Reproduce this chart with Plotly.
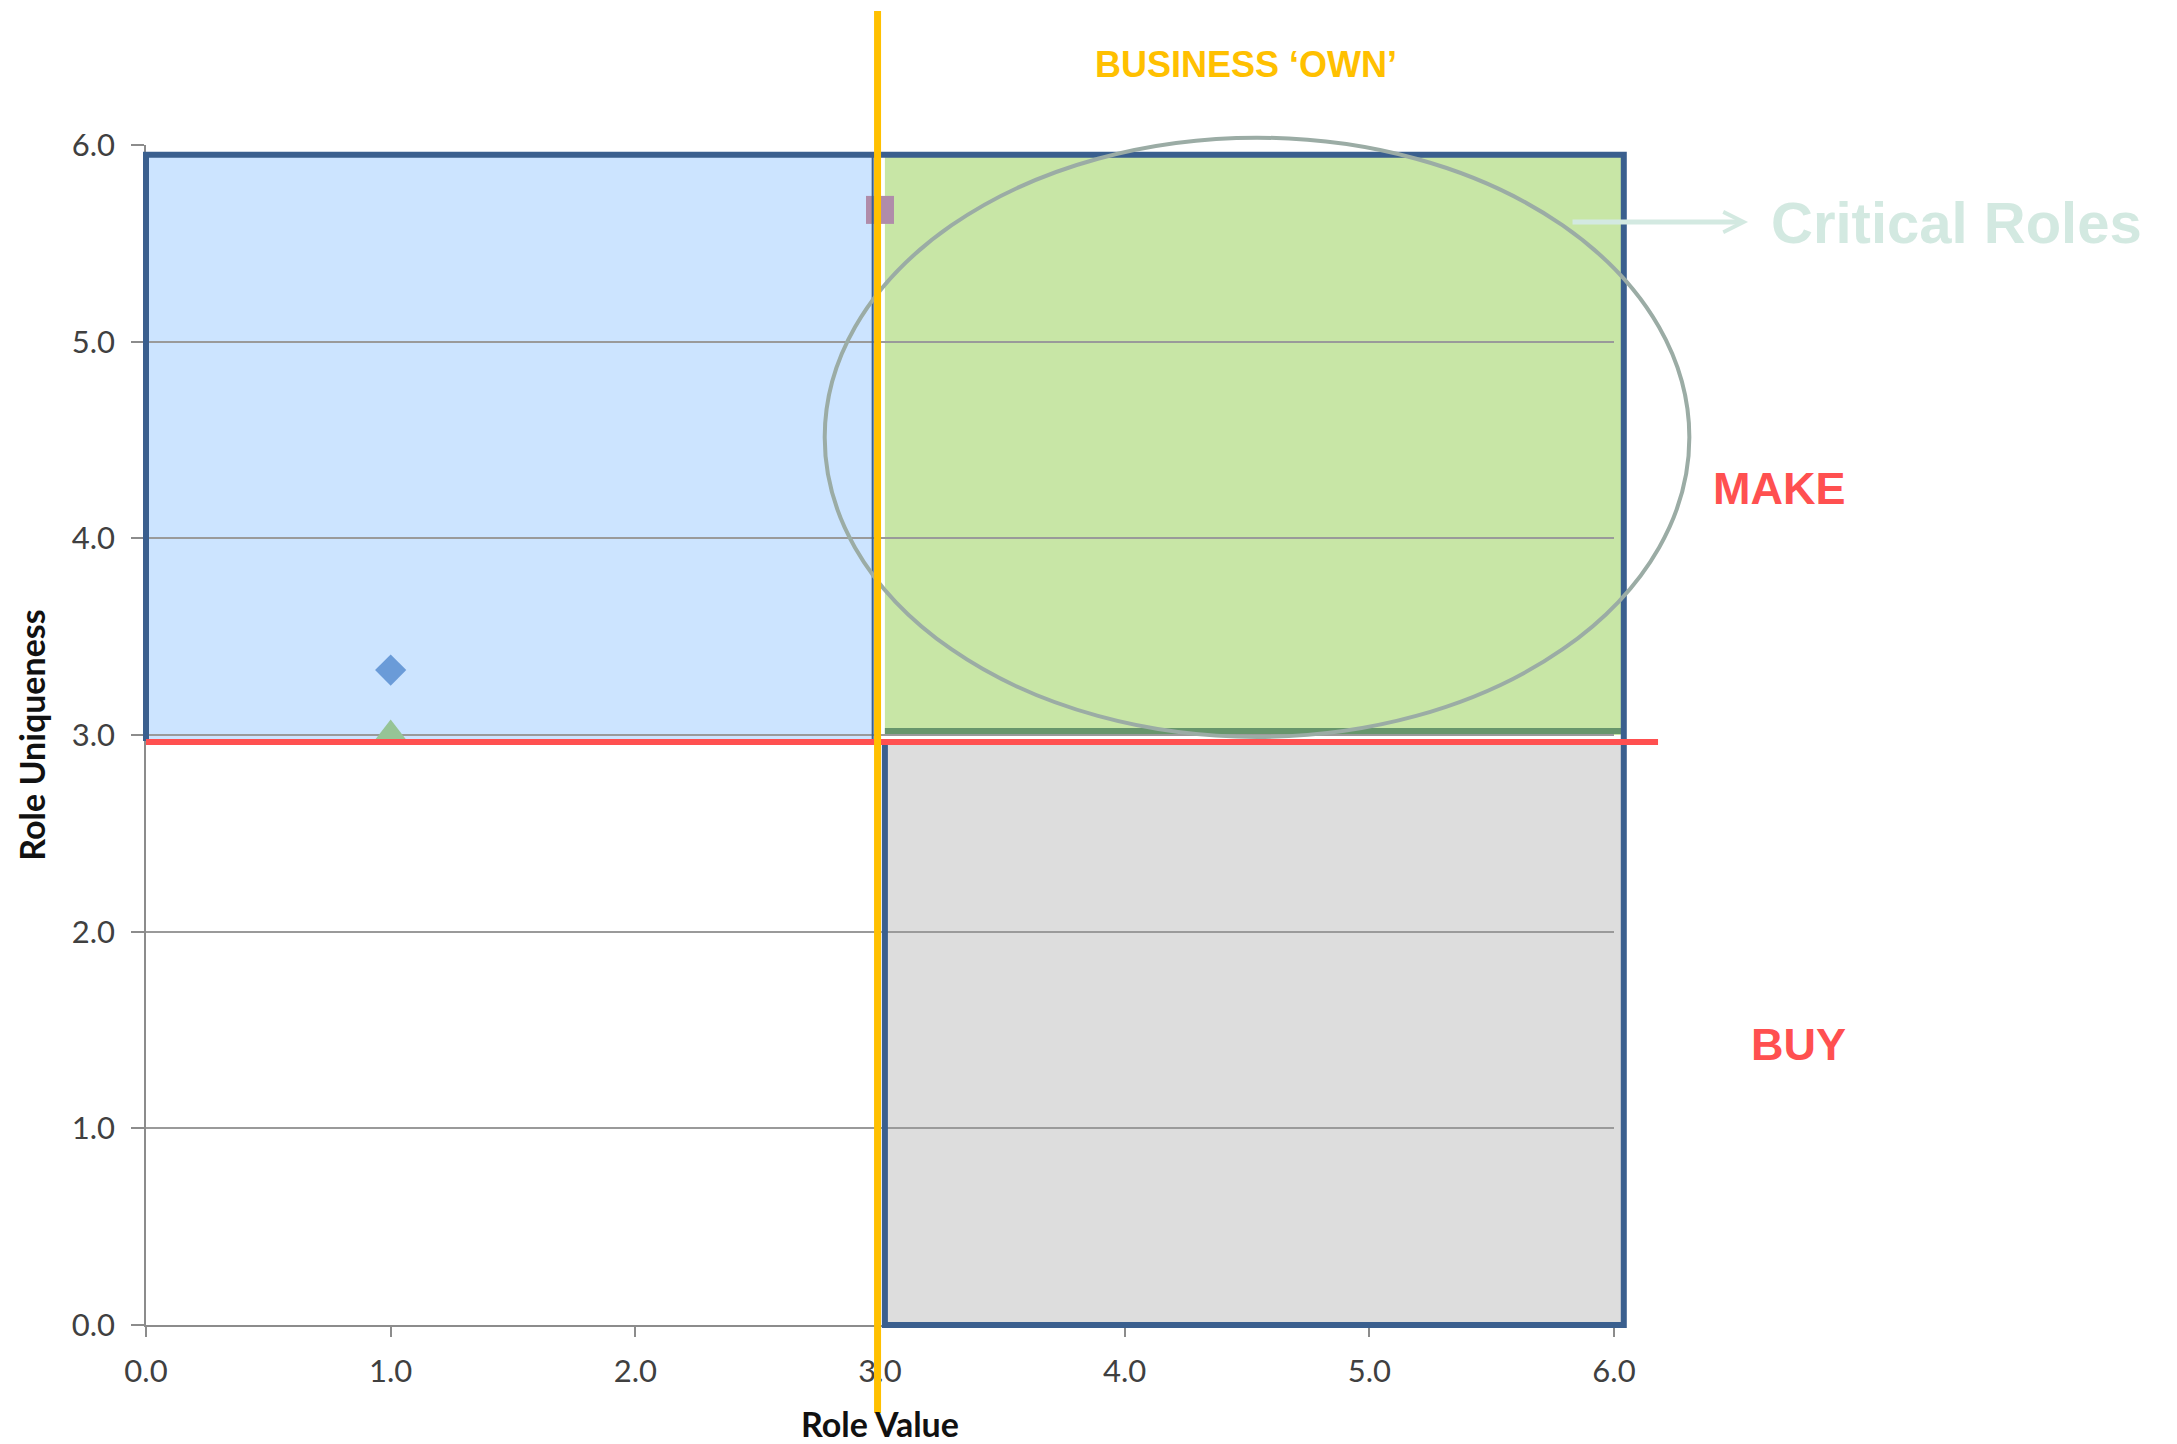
import plotly.graph_objects as go

# ---- data ----
role_names = ["Role A", "Role B", "Role C"]
role_value = [1.0, 3.0, 1.0]
role_uniqueness = [3.33, 5.67, 3.0]
role_symbols = ["diamond", "square", "triangle-up"]
role_colors = ["rgb(106,155,216)", "rgb(176,140,170)", "rgb(150,196,150)"]

x_ticks = [0, 1, 2, 3, 4, 5, 6]
x_tick_labels = ["0.0", "1.0", "2.0", "3.0", "4.0", "5.0", "6.0"]
y_ticks = [0, 1, 2, 3, 4, 5, 6]
y_tick_labels = ["0.0", "1.0", "2.0", "3.0", "4.0", "5.0", "6.0"]

# quadrant boundaries (data units)
split_x = 3.0
split_y = 2.97
top_y = 5.95
right_x = 6.04
green_left = 3.02
make_floor = 3.02
red_line_end = 6.18
# ellipse (data units)
ell_x0, ell_x1 = 2.774, 6.308
ell_y0, ell_y1 = 2.99, 6.037

AX_MAX = 6.0


def p(v):
    return v / AX_MAX


marker_sizes = {"diamond": 24, "square": 28, "triangle-up": 31}

fig = go.Figure()
for i in range(len(role_names)):
    fig.add_trace(go.Scatter(
        x=[role_value[i]], y=[role_uniqueness[i]], mode="markers",
        name=role_names[i],
        marker=dict(symbol=role_symbols[i], color=role_colors[i],
                    size=marker_sizes[role_symbols[i]], line=dict(width=0)),
        showlegend=False, cliponaxis=False))

BORDER = "rgb(58,95,142)"
shapes = []
# fills (below gridlines)
shapes.append(dict(type="rect", xref="x", yref="y", x0=0, x1=split_x, y0=split_y, y1=top_y,
                   fillcolor="rgb(204,228,255)", line=dict(width=0), layer="below"))
shapes.append(dict(type="rect", xref="paper", yref="paper", x0=p(green_left), x1=p(right_x),
                   y0=p(3.0), y1=p(top_y), fillcolor="rgb(200,230,166)", line=dict(width=0), layer="below"))
shapes.append(dict(type="rect", xref="paper", yref="paper", x0=p(green_left), x1=p(right_x),
                   y0=p(0), y1=p(split_y), fillcolor="rgb(221,221,221)", line=dict(width=0), layer="below"))
# green strip at bottom of MAKE area
shapes.append(dict(type="line", xref="paper", yref="paper", x0=p(green_left), x1=p(right_x),
                   y0=p(make_floor), y1=p(make_floor), line=dict(color="rgb(104,150,108)", width=6), layer="above"))
# thin right edge of blue box
shapes.append(dict(type="line", xref="x", yref="y", x0=2.97, x1=2.97, y0=split_y, y1=top_y,
                   line=dict(color=BORDER, width=2), layer="above"))
# thick outline
path = (f"M {p(0)},{p(split_y)} L {p(0)},{p(top_y)} L {p(right_x)},{p(top_y)} "
        f"L {p(right_x)},{p(0)} L {p(green_left)},{p(0)} L {p(green_left)},{p(split_y)}")
shapes.append(dict(type="path", xref="paper", yref="paper", path=path,
                   line=dict(color=BORDER, width=6), layer="above"))
# ellipse
shapes.append(dict(type="circle", xref="paper", yref="paper", x0=p(ell_x0), x1=p(ell_x1),
                   y0=p(ell_y0), y1=p(ell_y1), line=dict(color="rgb(155,172,165)", width=4), layer="above"))
# red horizontal line
shapes.append(dict(type="line", xref="paper", yref="y", x0=0, x1=p(red_line_end),
                   y0=2.965, y1=2.965, line=dict(color="rgb(255,80,80)", width=6), layer="above"))
# yellow vertical line
shapes.append(dict(type="line", xref="x", yref="paper", x0=2.99, x1=2.99,
                   y0=-0.0746, y1=1.1136, line=dict(color="rgb(255,192,0)", width=7), layer="above"))

annotations = [
    dict(text="<b>BUSINESS ‘OWN’</b>", xref="paper", yref="paper", x=0.7493, y=1.0686,
         showarrow=False, xanchor="center", yanchor="middle",
         font=dict(family="Liberation Sans", size=36, color="rgb(255,192,0)")),
    dict(text="<b>MAKE</b>", xref="paper", yref="paper", x=1.1594, y=0.7085,
         showarrow=False, xanchor="right", yanchor="middle",
         font=dict(family="Liberation Sans", size=45, color="rgb(255,80,80)")),
    dict(text="<b>BUY</b>", xref="paper", yref="paper", x=1.1594, y=0.2381,
         showarrow=False, xanchor="right", yanchor="middle",
         font=dict(family="Liberation Sans", size=45, color="rgb(255,80,80)")),
    dict(text="<b>Critical Roles</b>", xref="paper", yref="paper", x=1.233, y=0.9347,
         showarrow=False, xanchor="center", yanchor="middle",
         font=dict(family="Liberation Sans", size=58, color="rgb(211,233,225)")),
    dict(text="", xref="paper", yref="paper", x=1.0913, y=0.9347, ax=-177, ay=0,
         axref="pixel", ayref="pixel", showarrow=True, arrowhead=5, arrowsize=0.8,
         arrowwidth=5, arrowcolor="rgb(211,233,225)", standoff=0, startstandoff=0),
]

fig.update_layout(
    width=2177, height=1444,
    margin=dict(l=146, r=563, t=145, b=119),
    paper_bgcolor="white", plot_bgcolor="white",
    shapes=shapes, annotations=annotations,
    xaxis=dict(range=[0, AX_MAX], tickvals=x_ticks, ticktext=x_tick_labels, automargin=False,
               showgrid=False, zeroline=False, showline=True, linecolor="#8c8c8c", linewidth=1.5,
               ticks="outside", ticklen=10, tickcolor="#8c8c8c", tickwidth=1.5,
               ticklabelstandoff=8,
               tickfont=dict(family="Lato", size=31, color="#404040"),
               title=dict(text="<b>Role Value</b>", standoff=25,
                          font=dict(family="Lato", size=34, color="#111111"))),
    yaxis=dict(range=[0, AX_MAX], tickvals=y_ticks, ticktext=y_tick_labels, automargin=False,
               showgrid=True, gridcolor="#9a9a9a", gridwidth=1.5, zeroline=False,
               showline=True, linecolor="#8c8c8c", linewidth=1.5,
               ticks="outside", ticklen=13, tickcolor="#8c8c8c", tickwidth=1.5,
               ticklabelstandoff=10,
               tickfont=dict(family="Lato", size=31, color="#404040"),
               title=dict(text="<b>Role Uniqueness</b>", standoff=16,
                          font=dict(family="Lato", size=34, color="#111111"))),
)

fig.write_html("out.html")
